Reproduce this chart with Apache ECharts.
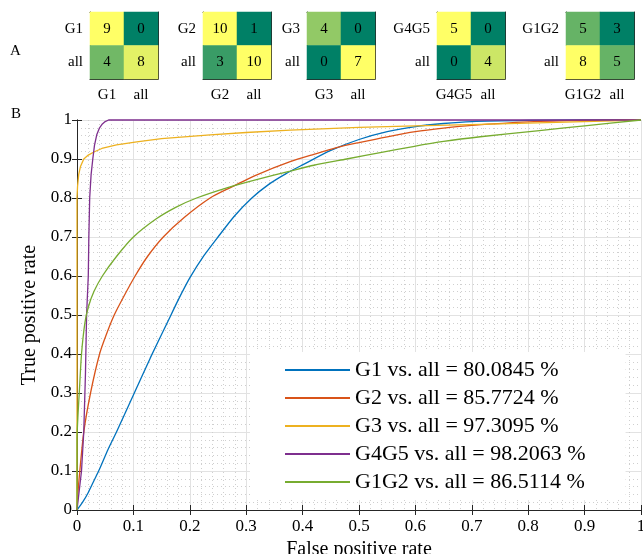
<!DOCTYPE html>
<html>
<head>
<meta charset="utf-8">
<script src="https://cdn.jsdelivr.net/npm/echarts@6/dist/echarts.min.js"></script>
<style>html,body{margin:0;padding:0;background:#fff}#main{width:643px;height:554px}</style>
</head>
<body>
<div id="main"></div>
<script>
// confusion matrices (rows: group / all, cols: group / all)
var cmNames = ['G1', 'G2', 'G3', 'G4G5', 'G1G2'];
var cmG1 = [[9, 0], [4, 8]];
var cmG2 = [[10, 1], [3, 10]];
var cmG3 = [[4, 0], [0, 7]];
var cmG4G5 = [[5, 0], [0, 4]];
var cmG1G2 = [[5, 3], [8, 5]];
var cmAll = [cmG1, cmG2, cmG3, cmG4G5, cmG1G2];

// ROC curves, [false positive rate, true positive rate]
var rocG1 = [[0,0],[0.01,0.02],[0.02,0.045],[0.03,0.075],[0.04,0.105],[0.055,0.155],[0.07,0.2],[0.1,0.295],[0.13,0.39],[0.16,0.48],[0.18,0.54],[0.2,0.595],[0.225,0.652],[0.25,0.7],[0.28,0.755],[0.31,0.8],[0.34,0.835],[0.37,0.862],[0.4,0.885],[0.45,0.922],[0.5,0.95],[0.55,0.97],[0.6,0.983],[0.65,0.991],[0.7,0.996],[0.8,0.999],[0.9,1],[1,1]];
var rocG2 = [[0,0],[0.002,0.05],[0.005,0.1],[0.012,0.2],[0.024,0.3],[0.04,0.4],[0.052,0.45],[0.066,0.5],[0.082,0.545],[0.103,0.6],[0.125,0.65],[0.153,0.7],[0.19,0.75],[0.236,0.8],[0.271,0.826],[0.32,0.86],[0.378,0.893],[0.42,0.912],[0.46,0.929],[0.5,0.942],[0.55,0.957],[0.6,0.97],[0.65,0.979],[0.7,0.986],[0.8,0.995],[0.9,0.999],[1,1]];
var rocG3 = [[0,0],[0,0.8],[0.001,0.83],[0.003,0.86],[0.006,0.88],[0.012,0.9],[0.02,0.91],[0.03,0.918],[0.044,0.927],[0.07,0.936],[0.106,0.944],[0.15,0.952],[0.236,0.962],[0.3,0.968],[0.378,0.974],[0.5,0.981],[0.6,0.985],[0.715,0.989],[0.85,0.994],[1,1]];
var rocG4G5 = [[0,0],[0.004,0.05],[0.008,0.1],[0.012,0.2],[0.015,0.35],[0.017,0.5],[0.02,0.6],[0.021,0.7],[0.0225,0.8],[0.025,0.86],[0.028,0.9],[0.031,0.935],[0.035,0.962],[0.04,0.98],[0.045,0.99],[0.05,0.996],[0.056,1],[1,1]];
var rocG1G2 = [[0,0],[0,0.18],[0.002,0.25],[0.004,0.3],[0.008,0.4],[0.014,0.48],[0.02,0.52],[0.03,0.56],[0.045,0.6],[0.07,0.65],[0.1,0.7],[0.14,0.746],[0.175,0.776],[0.212,0.8],[0.27,0.828],[0.32,0.848],[0.378,0.869],[0.42,0.884],[0.478,0.9],[0.54,0.917],[0.596,0.932],[0.65,0.945],[0.715,0.957],[0.82,0.973],[0.9,0.985],[1,1]];
var rocAll = [rocG1, rocG2, rocG3, rocG4G5, rocG1G2];
var rocNames = ['G1 vs. all = 80.0845 %', 'G2 vs. all = 85.7724 %', 'G3 vs. all = 97.3095 %', 'G4G5 vs. all = 98.2063 %', 'G1G2 vs. all = 86.5114 %'];

var FONT = '"Liberation Serif","Times New Roman",serif';
var AX = '#262626';
var lineColors = ['#0072BD', '#D95319', '#EDB120', '#7E2F8E', '#77AC30'];
var lineSmooth = [0.25, 0.25, false, false, 0.25];
var cmLeft = [90, 203, 307, 437, 566];

var chart = echarts.init(document.getElementById('main'));

var tick = {show: true, inside: true, length: 5, lineStyle: {color: AX}};
var axLine = {show: true, lineStyle: {color: AX, width: 1}};

var grids = [{left: 77, top: 120, width: 564, height: 390, outerBoundsMode: 'none', containLabel: false}];
var xAxes = [
  {type: 'value', gridIndex: 0, min: 0, max: 1, interval: 0.1, position: 'bottom',
   axisLine: axLine, axisTick: tick,
   axisLabel: {fontSize: 17, fontFamily: FONT, color: '#000', margin: 8},
   splitLine: {show: true, lineStyle: {color: '#e2e2e2', width: 1}},
   minorTick: {show: false, splitNumber: 5},
   minorSplitLine: {show: true, lineStyle: {color: '#cfcfcf', type: [1, 3], width: 1}},
   name: 'False positive rate', nameLocation: 'middle', nameGap: 24,
   nameTextStyle: {fontSize: 20, fontFamily: FONT, color: '#000'}},
  {type: 'value', gridIndex: 0, min: 0, max: 1, interval: 0.1, position: 'top',
   axisLine: axLine, axisTick: tick, axisLabel: {show: false}, splitLine: {show: false}}
];
var yAxes = [
  {type: 'value', gridIndex: 0, min: 0, max: 1, interval: 0.1, position: 'left',
   axisLine: axLine, axisTick: tick,
   axisLabel: {fontSize: 17, fontFamily: FONT, color: '#000', margin: 5},
   splitLine: {show: true, lineStyle: {color: '#e2e2e2', width: 1}},
   minorTick: {show: false, splitNumber: 5},
   minorSplitLine: {show: true, lineStyle: {color: '#cfcfcf', type: [1, 3], width: 1}},
   name: 'True positive rate', nameLocation: 'middle', nameGap: 29,
   nameTextStyle: {fontSize: 20, fontFamily: FONT, color: '#000'}},
  {type: 'value', gridIndex: 0, min: 0, max: 1, interval: 0.1, position: 'right',
   axisLine: axLine, axisTick: tick, axisLabel: {show: false}, splitLine: {show: false}}
];

var series = [];
rocAll.forEach(function (d, i) {
  series.push({
    name: rocNames[i], type: 'line', data: d, xAxisIndex: 0, yAxisIndex: 0,
    showSymbol: false, symbol: 'none', clip: false, color: lineColors[i],
    smooth: lineSmooth[i],
    lineStyle: {width: 1.3, color: lineColors[i]}, z: 2 + i
  });
});

var visualMaps = [];
var cmTick = {show: true, inside: true, length: 3, alignWithLabel: true, lineStyle: {color: AX}};
cmAll.forEach(function (m, i) {
  var g = i + 1;
  grids.push({left: cmLeft[i], top: 12, width: 68, height: 67, outerBoundsMode: 'none', containLabel: false});
  var cats = [cmNames[i], 'all'];
  var lbl = {fontSize: 15, fontFamily: FONT, color: '#000', interval: 0, hideOverlap: false};
  xAxes.push({type: 'category', gridIndex: g, data: cats, position: 'bottom',
    axisLine: axLine, axisTick: cmTick, axisLabel: Object.assign({margin: 9}, lbl), splitLine: {show: false}});
  xAxes.push({type: 'category', gridIndex: g, data: cats, position: 'top',
    axisLine: axLine, axisTick: cmTick, axisLabel: {show: false}, splitLine: {show: false}});
  yAxes.push({type: 'category', gridIndex: g, data: cats, inverse: true, position: 'left',
    axisLine: axLine, axisTick: cmTick, axisLabel: Object.assign({margin: 7}, lbl), splitLine: {show: false}});
  yAxes.push({type: 'category', gridIndex: g, data: cats, inverse: true, position: 'right',
    axisLine: axLine, axisTick: cmTick, axisLabel: {show: false}, splitLine: {show: false}});
  var data = [], vals = [];
  for (var r = 0; r < 2; r++) for (var c = 0; c < 2; c++) { data.push([c, r, m[r][c]]); vals.push(m[r][c]); }
  series.push({
    type: 'heatmap', xAxisIndex: 2 + 2 * i, yAxisIndex: 2 + 2 * i, data: data,
    label: {show: true, fontSize: 15, fontFamily: FONT, color: '#000'},
    itemStyle: {borderWidth: 0}, emphasis: {disabled: true}
  });
  visualMaps.push({
    type: 'continuous', show: false, seriesIndex: 5 + i, dimension: 2,
    min: Math.min.apply(null, vals), max: Math.max.apply(null, vals),
    inRange: {color: ['#008066', '#ffff66']}
  });
});

var option = {
  animation: false,
  backgroundColor: '#fff',
  grid: grids,
  xAxis: xAxes,
  yAxis: yAxes,
  visualMap: visualMaps,
  legend: {
    data: rocNames, orient: 'vertical', left: 250, top: 352,
    padding: [7, 40, 7, 35], backgroundColor: '#fff',
    icon: 'rect', itemWidth: 65, itemHeight: 2, itemGap: 6, selectedMode: false,
    textStyle: {fontSize: 22, lineHeight: 22, fontFamily: FONT, color: '#000'}, z: 10
  },
  graphic: [
    {type: 'text', left: 10, top: 44, style: {text: 'A', fontSize: 15, fontFamily: FONT, fill: '#000'}},
    {type: 'text', left: 11, top: 107, style: {text: 'B', fontSize: 15, fontFamily: FONT, fill: '#000'}}
  ],
  series: series
};
chart.setOption(option);
</script>
</body>
</html>
